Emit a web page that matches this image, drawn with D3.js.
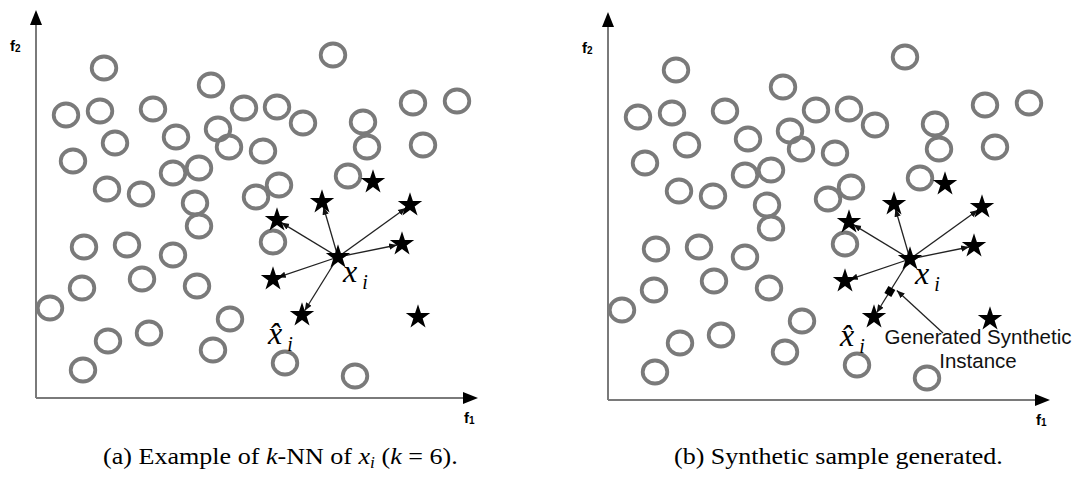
<!DOCTYPE html>
<meta charset="utf-8">
<style>
body { margin: 0; background: #fff; }
.axis line { stroke: #7a7a7a; stroke-width: 2px; }
.circles ellipse { fill: none; stroke: #7a7a7a; stroke-width: 3.8px; }
.links line { stroke: #222; stroke-width: 1.3px; }
.flabel { font-family: "Liberation Sans", Arial, sans-serif; font-weight: bold; font-size: 15px; }
.note { font-family: "Liberation Sans", Arial, sans-serif; font-size: 20.5px; fill: #111; }
</style>
<svg width="1080" height="486"></svg>
<script src="https://d3js.org/d3.v7.min.js"></script>
<script>

// majority class samples (f1, f2)
var circles = [
  [68,330],[30,283],[64,287],[117,289],[175,313],[208,290],[241,291],[267,275],
  [297,343],[327,276],[331,251],[377,295],[421,297],[387,253],[79,255],[37,237],
  [140,261],[182,269],[193,251],[227,247],[71,209],[105,204],[137,225],[163,230],
  [312,222],[243,213],[220,201],[159,195],[163,172],[237,156],[48,151],[91,153],
  [137,143],[106,119],[161,112],[46,110],[14,90],[194,79],[113,65],[72,57],
  [177,48],[47,28],[249,35],[319,22]
];

// minority class: the chosen sample, its k = 6 neighbours, and the rest
var xi = [302,141];
var neighbours = [[241,178],[286,196],[374,193],[366,154],[237,119],[266,83]];
var others = [[337,216],[382,81]];
var chosen = 5;      // index of x-hat among the neighbours
var gap = 0.56;      // random gap for the synthetic sample

var panels = [
  {dx: 0, dy: 0, synthetic: false},
  {dx: 572, dy: 2, synthetic: true}
];

var serif = "'Liberation Serif', 'Times New Roman', serif";

var svg = d3.select("svg");

var x = d3.scaleLinear().domain([0, 440]).range([36, 476]);
var y = d3.scaleLinear().domain([0, 388]).range([398, 10]);

svg.append("defs").append("marker")
    .attr("id", "tip")
    .attr("viewBox", "0 0 10 10")
    .attr("refX", 10).attr("refY", 5)
    .attr("markerWidth", 8).attr("markerHeight", 8)
    .attr("markerUnits", "userSpaceOnUse")
    .attr("orient", "auto")
  .append("path")
    .attr("d", "M0,1L10,5L0,9Z")
    .attr("fill", "#111");

var star = d3.symbol().type(d3.symbolStar).size(185);

function mathText(g, tx, ty, base) {
  var t = g.append("text")
      .attr("x", tx).attr("y", ty)
      .style("font-family", serif)
      .style("font-style", "italic")
      .style("font-size", "32px")
      .text(base);
  t.append("tspan").style("font-size", "20px").attr("dx", 5).attr("dy", 7).text("i");
}

panels.forEach(function(p) {
  var g = svg.append("g").attr("transform", "translate(" + p.dx + "," + p.dy + ")");

  // axes with arrow heads
  var ax = g.append("g").attr("class", "axis");
  ax.append("line")
      .attr("x1", x(0)).attr("y1", y(0))
      .attr("x2", x(0)).attr("y2", y(388) + 12);
  ax.append("line")
      .attr("x1", x(0)).attr("y1", y(0))
      .attr("x2", x(440) - 10).attr("y2", y(0));
  ax.append("path")
      .attr("d", "M" + x(0) + "," + y(388) + "l-6,15h12z")
      .attr("fill", "#000");
  ax.append("path")
      .attr("d", "M" + (x(440) + 2) + "," + y(0) + "l-15,-6v12z")
      .attr("fill", "#000");

  var f2 = g.append("text").attr("class", "flabel").attr("x", 10).attr("y", 51).text("f");
  f2.append("tspan").attr("font-size", "10px").attr("dy", 1).text("2");
  var f1 = g.append("text").attr("class", "flabel").attr("x", 464).attr("y", 423).text("f");
  f1.append("tspan").attr("font-size", "10px").attr("dy", 1).text("1");

  g.append("g").attr("class", "circles")
    .selectAll("ellipse")
    .data(circles)
    .enter().append("ellipse")
      .attr("cx", function(d) { return x(d[0]); })
      .attr("cy", function(d) { return y(d[1]); })
      .attr("rx", 12.3)
      .attr("ry", 11.5);

  // links from x_i to its neighbours
  g.append("g").attr("class", "links")
    .selectAll("line")
    .data(neighbours)
    .enter().append("line")
      .attr("x1", x(xi[0]))
      .attr("y1", y(xi[1]))
      .attr("x2", function(d) {
        var ddx = x(d[0]) - x(xi[0]), ddy = y(d[1]) - y(xi[1]);
        var len = Math.sqrt(ddx * ddx + ddy * ddy);
        return x(d[0]) - ddx / len * 5;
      })
      .attr("y2", function(d) {
        var ddx = x(d[0]) - x(xi[0]), ddy = y(d[1]) - y(xi[1]);
        var len = Math.sqrt(ddx * ddx + ddy * ddy);
        return y(d[1]) - ddy / len * 5;
      })
      .attr("marker-end", "url(#tip)");

  g.append("g")
    .selectAll("path")
    .data([xi].concat(neighbours, others))
    .enter().append("path")
      .attr("d", star)
      .attr("transform", function(d) { return "translate(" + x(d[0]) + "," + y(d[1]) + ")"; })
      .attr("fill", "#000");

  // x_i and x-hat labels
  mathText(g, x(xi[0]) + 5, y(xi[1]) + 25, "x");
  var xh = neighbours[chosen];
  mathText(g, x(xh[0]) - 34, y(xh[1]) + 29, "x\u0302");

  if (p.synthetic) {
    var sx = xi[0] + gap * (xh[0] - xi[0]);
    var sy = xi[1] + gap * (xh[1] - xi[1]);
    g.append("path")
        .attr("d", d3.symbol().type(d3.symbolSquare).size(64))
        .attr("transform", "translate(" + x(sx) + "," + y(sy) + ") rotate(30)")
        .attr("fill", "#000");
    g.append("line")
        .attr("x1", x(335)).attr("y1", y(67))
        .attr("x2", x(sx) + 7).attr("y2", y(sy) - 1)
        .attr("stroke", "#222").attr("stroke-width", 1.3)
        .attr("marker-end", "url(#tip)");
    g.append("text").attr("class", "note")
        .attr("x", x(370)).attr("y", y(56))
        .attr("text-anchor", "middle").text("Generated Synthetic");
    g.append("text").attr("class", "note")
        .attr("x", x(370)).attr("y", y(32))
        .attr("text-anchor", "middle").text("Instance");
  }
});

// captions, stretched to the width of the reference typesetting
function caption(left, width, build) {
  var g = svg.append("g");
  var t = g.append("text")
      .style("font-family", serif)
      .style("font-size", "24px");
  build(t);
  var w = t.node().getComputedTextLength();
  g.attr("transform", "translate(" + left + ",464) scale(" + (width / w) + ",1)");
}

caption(103, 355, function(t) {
  t.append("tspan").text("(a) Example of ");
  t.append("tspan").style("font-style", "italic").text("k");
  t.append("tspan").text("-NN of ");
  t.append("tspan").style("font-style", "italic").text("x");
  t.append("tspan").style("font-size", "16px").style("font-style", "italic").attr("dy", 4).text("i");
  t.append("tspan").attr("dy", -4).text(" (");
  t.append("tspan").style("font-style", "italic").text("k");
  t.append("tspan").text(" = 6).");
});

caption(674, 329, function(t) {
  t.text("(b) Synthetic sample generated.");
});

</script>
